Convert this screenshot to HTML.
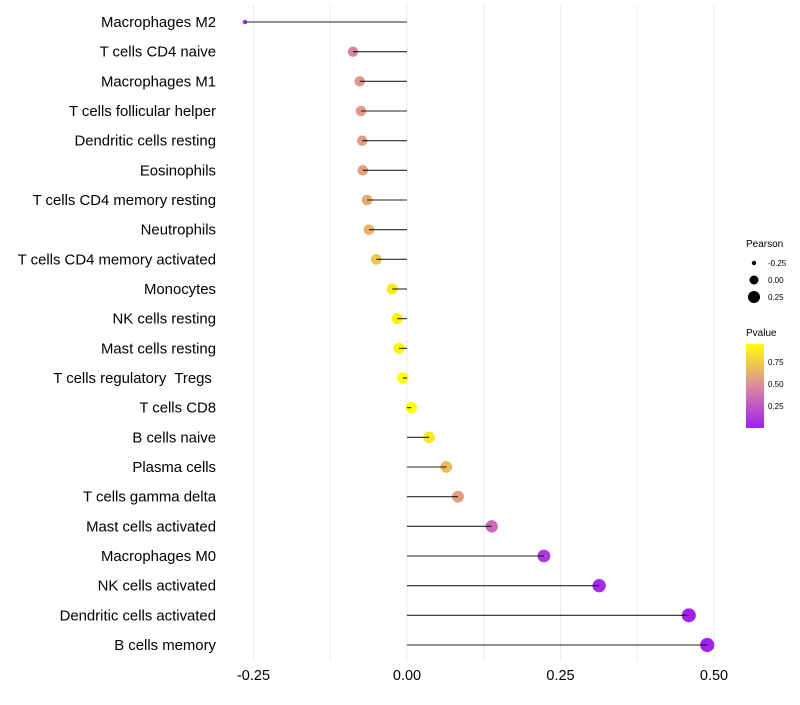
<!DOCTYPE html>
<html><head><meta charset="utf-8"><style>
body{margin:0;background:#fff;font-family:"Liberation Sans",sans-serif;}
</style></head><body>
<svg id="chart" width="800" height="700" xmlns="http://www.w3.org/2000/svg">
<defs><linearGradient id="pg" x1="0" y1="1" x2="0" y2="0">
<stop offset="0" stop-color="#a020f0"/><stop offset="0.5" stop-color="#dc8a9e"/><stop offset="1" stop-color="#ffff00"/></linearGradient></defs>
<g id="grid"></g><g id="dots"></g><g id="marks"></g><g id="labels"></g><g id="xaxis"></g>
<g font-size="10">
<text x="746" y="247" fill="#000">Pearson</text>
<circle cx="754" cy="263" r="2.2" fill="#000"/><text x="768" y="266" font-size="8">-0.25</text>
<circle cx="754" cy="280" r="4.5" fill="#000"/><text x="768" y="283" font-size="8">0.00</text>
<circle cx="754" cy="297" r="6" fill="#000"/><text x="768" y="300" font-size="8">0.25</text>
<text x="746" y="336">Pvalue</text>
<rect x="746" y="344" width="18" height="84" fill="url(#pg)"/>
<text x="768" y="365" font-size="8">0.75</text>
<text x="768" y="387" font-size="8">0.50</text>
<text x="768" y="409" font-size="8">0.25</text>
</g>
</svg>
<script>
const categories=["Macrophages M2","T cells CD4 naive","Macrophages M1","T cells follicular helper","Dendritic cells resting","Eosinophils","T cells CD4 memory resting","Neutrophils","T cells CD4 memory activated","Monocytes","NK cells resting","Mast cells resting","T cells regulatory  Tregs ","T cells CD8","B cells naive","Plasma cells","T cells gamma delta","Mast cells activated","Macrophages M0","NK cells activated","Dendritic cells activated","B cells memory"];
const pearson=[-0.264,-0.088,-0.077,-0.075,-0.073,-0.072,-0.065,-0.062,-0.050,-0.024,-0.016,-0.013,-0.007,0.007,0.036,0.064,0.083,0.138,0.223,0.313,0.459,0.489];
const pvalue=[0.08,0.45,0.52,0.53,0.54,0.55,0.6,0.62,0.7,0.85,0.88,0.89,0.96,0.97,0.84,0.66,0.55,0.33,0.12,0.05,0.02,0.01];
const xTicks=[-0.25,0,0.25,0.5];
const xTickLabels=["-0.25","0.00","0.25","0.50"];
const NS="http://www.w3.org/2000/svg";
const x=v=>407+v*614;
const y=i=>22+i*(623/21);
function mk(t,a,p){const e=document.createElementNS(NS,t);for(const k in a)e.setAttribute(k,a[k]);p.appendChild(e);return e;}
function hex(c){return [parseInt(c.slice(1,3),16),parseInt(c.slice(3,5),16),parseInt(c.slice(5,7),16)];}
const stops=[hex("#a020f0"),hex("#dc8a9e"),hex("#ffff00")];
function col(p){let f=Math.max(0,Math.min(1,(p-0.005)/0.925));let s=f<0.5?0:1;let t=f<0.5?f*2:(f-0.5)*2;const a=stops[s],b=stops[s+1];return "rgb("+a.map((v,k)=>Math.round(v+(b[k]-v)*t)).join(",")+")";}
const rad=v=>Math.sqrt(5+52*Math.sqrt(Math.max(0,v+0.264)));
const grid=document.getElementById('grid');
for(let v=-0.25;v<=0.51;v+=0.125){const l=mk('line',{x1:x(v),x2:x(v),y1:5,y2:660,stroke:'#ebebeb','stroke-width':1},grid);}
const dots=document.getElementById('dots'),marks=document.getElementById('marks'),labels=document.getElementById('labels'),xa=document.getElementById('xaxis');
categories.forEach((c,i)=>{
 const d=mk('circle',{cx:x(pearson[i]),cy:y(i),r:rad(pearson[i]),fill:col(pvalue[i])},dots);
 
 const s=mk('line',{x1:x(0),x2:x(pearson[i]),y1:y(i),y2:y(i),stroke:'#000','stroke-width':1.1,'stroke-opacity':0.85},marks);
 
 const t=mk('text',{x:216,y:y(i)+5,'text-anchor':'end','font-size':14.9,fill:'#000'},labels);t.textContent=c;
 t.style.whiteSpace='pre';
 
});
xTicks.forEach((v,i)=>{const t=mk('text',{x:x(v),y:680,'text-anchor':'middle','font-size':14.5,fill:'#000'},xa);t.textContent=xTickLabels[i];
 });
</script>
</body></html>
